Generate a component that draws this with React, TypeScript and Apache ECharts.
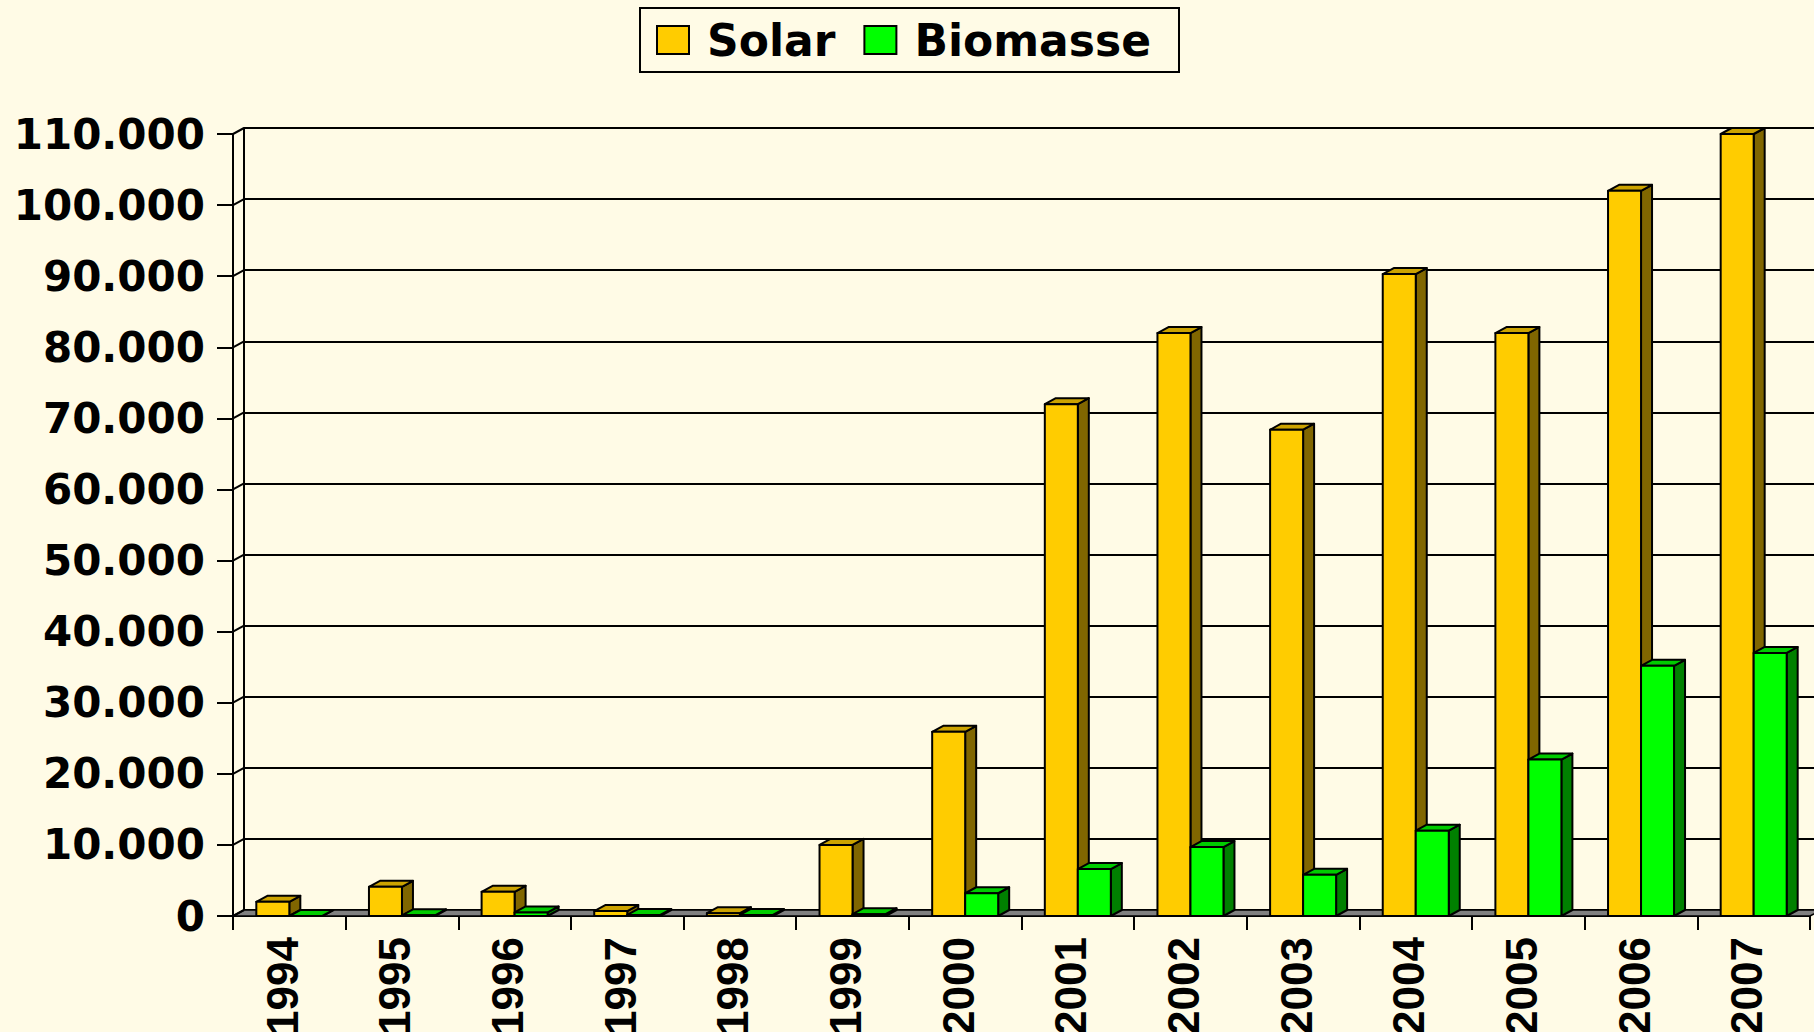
import React, { useEffect, useRef } from "react";
import * as echarts from "echarts";

const years = ["1994", "1995", "1996", "1997", "1998", "1999", "2000", "2001", "2002", "2003", "2004", "2005", "2006", "2007"];
const solar = [2000, 4100, 3400, 700, 400, 10000, 25900, 72000, 82000, 68400, 90300, 82000, 102000, 110000];
const biomasse = [0, 100, 500, 150, 150, 250, 3200, 6600, 9700, 5800, 12000, 22000, 35200, 37000];
const yTicks = [0, 10000, 20000, 30000, 40000, 50000, 60000, 70000, 80000, 90000, 100000, 110000];

const BG = "#FFFBE6";
const DX = 11;
const DY = 6;
const BAR_FRAC = 0.293;
const GRID_LEFT = 233;
const GRID_TOP = 134;
const GRID_W = 1577;
const GRID_H = 782;

const fmt = (v: number) => String(v).replace(/\B(?=(\d{3})+(?!\d))/g, ".");

function barRenderer(left: boolean, front: string, top: string, side: string) {
  return (params: any, api: any) => {
    const idx = api.value(0);
    const v = api.value(1);
    const t = api.coord([idx, v]);
    const b = api.coord([idx, 0]);
    const band = api.size([1, 0])[0];
    const w = band * BAR_FRAC;
    const x0 = left ? t[0] - w : t[0];
    const ty = t[1];
    const by = b[1];
    const stroke = { stroke: "#000", lineWidth: 2, lineJoin: "round" };
    return {
      type: "group",
      children: [
        {
          type: "polygon",
          shape: { points: [[x0 + w, ty], [x0 + w + DX, ty - DY], [x0 + w + DX, by - DY], [x0 + w, by]] },
          style: { fill: side, ...stroke },
        },
        {
          type: "polygon",
          shape: { points: [[x0, ty], [x0 + DX, ty - DY], [x0 + w + DX, ty - DY], [x0 + w, ty]] },
          style: { fill: top, ...stroke },
        },
        {
          type: "rect",
          shape: { x: x0, y: ty, width: w, height: Math.max(by - ty, 0) },
          style: { fill: front, ...stroke },
        },
      ],
    };
  };
}

export default function App() {
  const ref = useRef<HTMLDivElement>(null);
  useEffect(() => {
    document.body.style.margin = "0";
    document.body.style.background = BG;
    const chart = echarts.init(ref.current as HTMLDivElement, null, { renderer: "svg" });
    const axisLine = { color: "#000", width: 2 };
    const option: any = {
      animation: false,
      backgroundColor: BG,
      legend: {
        left: 640,
        top: 8,
        padding: [8, 28, 8, 16],
        borderColor: "#000",
        borderWidth: 2,
        itemWidth: 32,
        itemHeight: 28,
        itemGap: 28,
        icon: "rect",
        selectedMode: false,
        textStyle: {
          fontFamily: "DejaVu Sans",
          fontWeight: "bold",
          fontSize: 44,
          lineHeight: 48,
          color: "#000",
          padding: [0, 0, 0, 13],
        },
        data: [
          { name: "Solar", itemStyle: { color: "#FFCC00", borderColor: "#000", borderWidth: 2 } },
          { name: "Biomasse", itemStyle: { color: "#00FF00", borderColor: "#000", borderWidth: 2 } },
        ],
      },
      grid: [
        { left: GRID_LEFT, top: GRID_TOP, width: GRID_W, height: GRID_H, outerBoundsMode: "none", containLabel: false },
        { left: GRID_LEFT + DX, top: GRID_TOP - DY, width: GRID_W, height: GRID_H, outerBoundsMode: "none", containLabel: false },
      ],
      xAxis: [
        {
          type: "category",
          gridIndex: 0,
          data: years,
          axisLine: { show: true, lineStyle: axisLine },
          axisTick: { show: true, length: 14, lineStyle: axisLine },
          axisLabel: {
            rotate: 90,
            margin: 21,
            verticalAlign: "bottom",
            lineHeight: 14,
            fontFamily: "Liberation Sans",
            fontWeight: "bold",
            fontSize: 44,
            color: "#000",
          },
          splitLine: { show: false },
        },
        { type: "category", gridIndex: 1, data: years, show: false },
      ],
      yAxis: [
        {
          type: "value",
          gridIndex: 0,
          min: 0,
          max: 110000,
          interval: 10000,
          axisLine: { show: true, lineStyle: axisLine },
          axisTick: { show: true, length: 16, lineStyle: axisLine },
          axisLabel: {
            margin: 28,
            formatter: fmt,
            fontFamily: "DejaVu Sans",
            fontWeight: "bold",
            fontSize: 42,
            color: "#000",
          },
          splitLine: { show: false },
        },
        {
          type: "value",
          gridIndex: 1,
          min: 0,
          max: 110000,
          interval: 10000,
          axisLine: { show: true, lineStyle: axisLine },
          axisTick: { show: false },
          axisLabel: { show: false },
          splitLine: { show: true, lineStyle: { color: "#000", width: 2 } },
        },
      ],
      series: [
        {
          name: "_floor",
          type: "custom",
          xAxisIndex: 0,
          yAxisIndex: 0,
          clip: false,
          z: 2,
          silent: true,
          data: [[0, 0]],
          renderItem: (params: any, api: any) => {
            const cs = params.coordSys;
            const y0 = api.coord([0, 0])[1];
            return {
              type: "polygon",
              shape: {
                points: [
                  [cs.x, y0],
                  [cs.x + DX, y0 - DY],
                  [cs.x + cs.width + DX, y0 - DY],
                  [cs.x + cs.width, y0],
                ],
              },
              style: { fill: "#808080", stroke: "#000", lineWidth: 1.5 },
            };
          },
        },
        {
          name: "_ticks",
          type: "custom",
          xAxisIndex: 0,
          yAxisIndex: 0,
          clip: false,
          z: 2,
          silent: true,
          data: yTicks.map((v) => [0, v]),
          renderItem: (params: any, api: any) => {
            const cs = params.coordSys;
            const y = api.coord([0, api.value(1)])[1];
            return {
              type: "line",
              shape: { x1: cs.x, y1: y, x2: cs.x + DX, y2: y - DY },
              style: { stroke: "#000", lineWidth: 2 },
            };
          },
        },
        {
          name: "Solar",
          type: "custom",
          xAxisIndex: 0,
          yAxisIndex: 0,
          clip: false,
          z: 3,
          itemStyle: { color: "#FFCC00" },
          data: years.map((y, i) => [i, solar[i]]),
          renderItem: barRenderer(true, "#FFCC00", "#CCA300", "#806600"),
        },
        {
          name: "Biomasse",
          type: "custom",
          xAxisIndex: 0,
          yAxisIndex: 0,
          clip: false,
          z: 4,
          itemStyle: { color: "#00FF00" },
          data: years.map((y, i) => [i, biomasse[i]]),
          renderItem: barRenderer(false, "#00FF00", "#00CC00", "#008000"),
        },
      ],
    };
    chart.setOption(option);
    return () => chart.dispose();
  }, []);
  return <div ref={ref} style={{ width: 1814, height: 1032 }} />;
}
